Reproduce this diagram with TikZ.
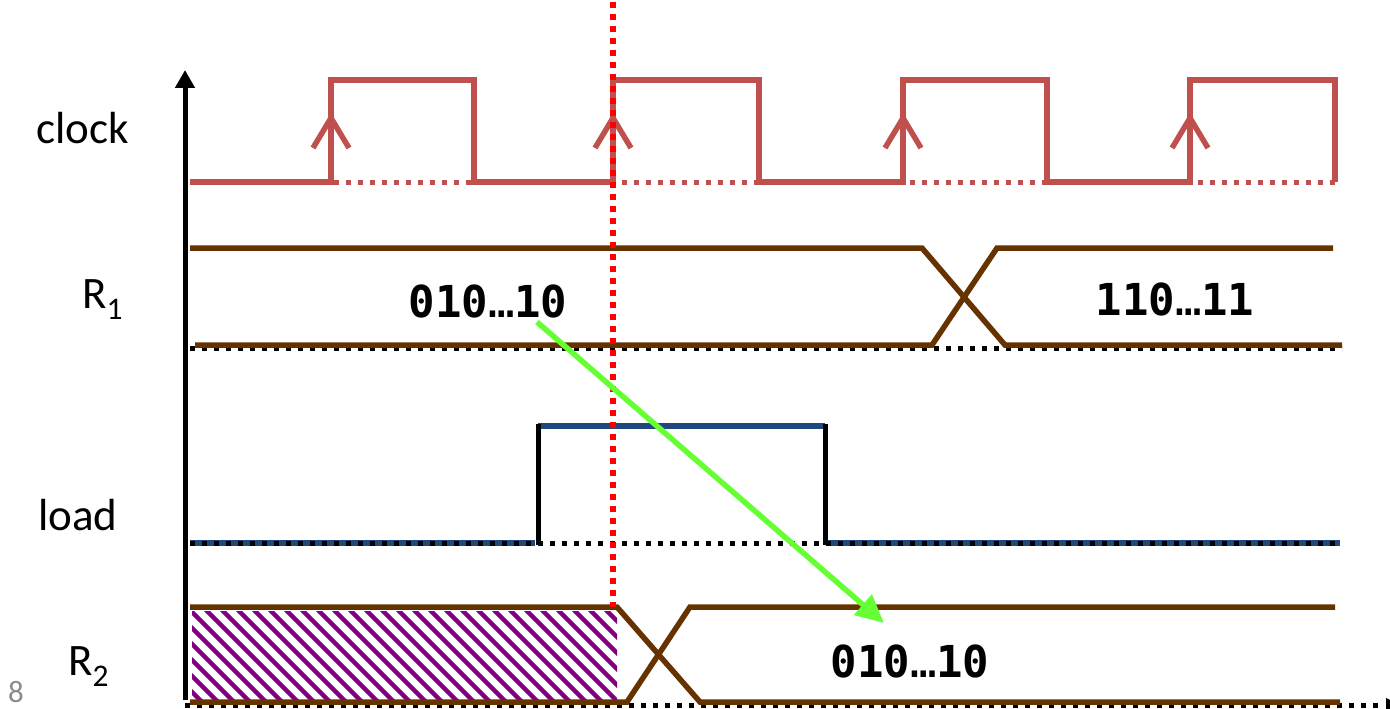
\documentclass[tikz,border=0pt]{standalone}
\usepackage{fontspec}
\setmainfont{Carlito}
\newfontfamily\valfont{DejaVu Sans Mono}
\usetikzlibrary{arrows.meta}
\definecolor{clkred}{RGB}{192,80,77}
\definecolor{rbrown}{RGB}{102,51,0}
\definecolor{ldblue}{RGB}{31,73,125}
\definecolor{arrgreen}{RGB}{102,255,51}
\definecolor{hpurple}{RGB}{128,0,128}
\definecolor{pgray}{RGB}{140,140,140}
\tikzset{
  clk/.style={draw=clkred, line width=5.5pt, line join=miter},
  clkdots/.style={draw=clkred, line width=5pt, dash pattern=on 5pt off 7pt},
  brn/.style={draw=rbrown, line width=5.5pt, line join=miter},
  blu/.style={draw=ldblue, line width=5.5pt},
  blk/.style={draw=black, line width=5pt},
  blkdots/.style={draw=black, line width=5pt, dash pattern=on 5pt off 7pt},
  lbl/.style={anchor=base west, inner sep=0pt, font=\fontsize{45}{54}\selectfont},
  val/.style={anchor=base, inner sep=0pt, font=\valfont\bfseries\fontsize{44}{52}\selectfont},
}
\newcommand{\myellip}{{\mdseries …}}
\begin{document}
\begin{tikzpicture}[x=1pt,y=-1pt]
\useasboundingbox (0,0) rectangle (1390,709);
% labels
\node[lbl] (lclock) at (36,143) {clock};
\node[lbl] (lr1) at (82,308) {R\textsubscript{1}};
\node[lbl] (lload) at (38,530) {load};
\node[lbl] (lr2) at (68,675) {R\textsubscript{2}};
\node[anchor=base west, inner sep=0pt, text=pgray, font=\fontsize{31}{36}\selectfont] (pnum) at (8,702) {8};
% clock
\draw[clkdots] (190,182) -- (1335,182);
\draw[clk] (190,182) -- (331,182) -- (331,80) -- (474,80) -- (474,182) -- (613,182) -- (613,80) -- (759,80) -- (759,182) -- (903,182) -- (903,80) -- (1047,80) -- (1047,182) -- (1190,182) -- (1190,80) -- (1335,80) -- (1335,182);
\foreach \xx in {331,613,903,1190}
  \draw[clk] (\xx-18,148) -- (\xx,118) -- (\xx+18,148);
% R1
\draw[blkdots] (190,348) -- (1342,348);
\draw[brn] (190,248) -- (922,248) -- (1005,345) -- (1342,345);
\draw[brn] (195,345) -- (932,345) -- (997,248) -- (1333,248);
\node[val] (v1) at (488,317) {010\myellip10};
\node[val] (v2) at (1175,315) {110\myellip11};
% load
\draw[blu] (190,543) -- (535,543);
\draw[blu] (826,543) -- (1340,543);
\draw[blu] (538,426) -- (825,426);
\draw[blk] (538,545) -- (538,424);
\draw[blk] (825,424) -- (825,545);
\draw[blkdots] (190,543) -- (1340,543);
% R2
\begin{scope}
  \clip (192,611) rectangle (617,699);
  \foreach \i in {0,...,34}
    \draw[hpurple, line width=4.5pt] (100+\i*16,600) -- ++(115,115);
\end{scope}
\draw[blkdots] (185,705) -- (1384,705);
\fill[black] (1386,698) -- (1400,705) -- (1386,712) -- cycle;
\draw[brn] (190,607) -- (617,607) -- (700,702) -- (1340,702);
\draw[brn] (190,702) -- (627,702) -- (690,607) -- (1335,607);
\node[val] (v3) at (910,677) {010\myellip10};
% axis
\draw[line width=5pt, -{Triangle[width=19pt,length=18pt]}] (185,700) -- (185,70);
% red marker line
\draw[red, line width=6pt, dash pattern=on 6pt off 6pt] (613,2) -- (613,607);
% green arrow
\coordinate (gs) at (537,322);
\coordinate (ge) at (884,623);
\draw[arrgreen, line width=5.5pt, -{Triangle[width=26pt,length=28pt]}] (gs) -- (ge);
\end{tikzpicture}
\end{document}
